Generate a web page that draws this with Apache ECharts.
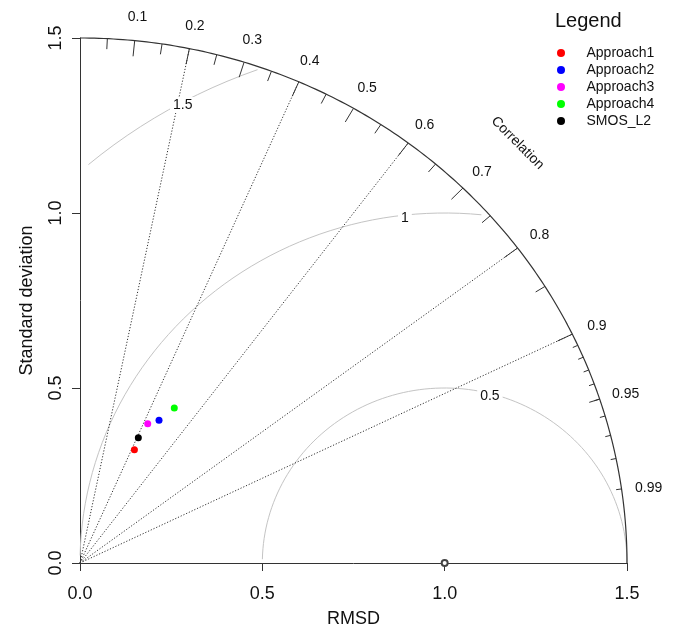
<!DOCTYPE html>
<html>
<head>
<meta charset="utf-8">
<title>Taylor diagram</title>
<script src="https://cdn.jsdelivr.net/npm/echarts@6/dist/echarts.min.js"></script>
<style>
  html, body { margin: 0; padding: 0; background: #fff; }
  #chart { width: 676px; height: 627px; }
</style>
</head>
<body>
<div id="chart"></div>
<script>
// Model statistics: standard deviation and correlation with the reference
const models = ['Approach1', 'Approach2', 'Approach3', 'Approach4', 'SMOS_L2'];
const stdDev = [0.356, 0.462, 0.439, 0.513, 0.392];
const correlation = [0.419, 0.469, 0.423, 0.504, 0.408];
const modelColors = ['#ff0000', '#0000ff', '#ff00ff', '#00ff00', '#000000'];

// Reference and diagram extent
const refSd = 1.0;
const maxSd = 1.5;
const axisTicks = [0, 0.5, 1.0, 1.5];

// Correlation arc: labelled ticks, gridlines and graduations
const corrLabels = [0.1, 0.2, 0.3, 0.4, 0.5, 0.6, 0.7, 0.8, 0.9, 0.95, 0.99];
const corrLines = [0.2, 0.4, 0.6, 0.8, 0.9];
const bigTicks = [0.1, 0.2, 0.3, 0.4, 0.5, 0.6, 0.7, 0.8, 0.9];
const medTicks = [0.05, 0.15, 0.25, 0.35, 0.45, 0.55, 0.65, 0.75, 0.85, 0.95];
const smallTicks = [0.91, 0.92, 0.93, 0.94, 0.95, 0.96, 0.97, 0.98, 0.99];

// Centred RMS difference contours
const rmsdLevels = [0.5, 1, 1.5];

const FONT = 'Liberation Sans, Arial, sans-serif';
const INK = '#111';

// polar (sd, r) -> cartesian (x, y)
const toXY = (sd, r) => [sd * r, sd * Math.sqrt(1 - r * r)];

// outer quarter arc
const outerArc = [];
for (let d = 0; d <= 90; d += 0.5) {
  const t = d * Math.PI / 180;
  outerArc.push([maxSd * Math.cos(t), maxSd * Math.sin(t)]);
}

function tickSegments(list, frac) {
  return list.map(r => ({ coords: [toXY(maxSd, r), toXY(maxSd * frac, r)] }));
}

// RMSD contours, sampled every 0.03 rad and clipped to the diagram
const angleSteps = [];
for (let k = 0; k < 105; k++) angleSteps.push(k * 0.03);
const labelIdx = [44, 56, 69];

const rmsdSeries = [];
const rmsdLabelData = [];
rmsdLevels.forEach((g, gi) => {
  const xs = angleSteps.map(t => Math.cos(t) * g + refSd);
  const ys = angleSteps.map(t => Math.sin(t) * g);
  let end = xs.findIndex(x => x < 0);
  end = end === -1 ? xs.length - 1 : end - 1;
  let start = 0;
  xs.forEach((x, i) => { if (x * x + ys[i] * ys[i] > maxSd * maxSd + 1e-9) start = i + 1; });
  const pts = [];
  for (let i = start; i <= end; i++) pts.push([xs[i], ys[i]]);
  rmsdSeries.push({
    type: 'line', name: 'rmsd' + g, data: pts, showSymbol: false, symbol: 'none',
    lineStyle: { color: '#c4c4c4', width: 1 }, silent: true, z: 2, clip: false
  });
  const li = labelIdx[gi];
  rmsdLabelData.push({ value: [xs[li], ys[li]], text: String(g) });
});

const series = [];

// outer arc
series.push({
  type: 'line', data: outerArc, showSymbol: false, symbol: 'none', silent: true, clip: false,
  lineStyle: { color: '#333', width: 1.2 }, z: 5
});

// correlation gridlines (dotted)
series.push({
  type: 'lines', coordinateSystem: 'cartesian2d', silent: true, z: 3,
  lineStyle: { color: '#333', width: 1, type: [1.2, 1.8], opacity: 1 },
  data: corrLines.map(r => ({ coords: [[0, 0], toXY(maxSd, r)] }))
});

// graduations on the arc
[[bigTicks, 0.97], [medTicks, 0.98], [smallTicks, 0.99]].forEach(([list, frac]) => {
  series.push({
    type: 'lines', coordinateSystem: 'cartesian2d', silent: true, z: 5,
    lineStyle: { color: '#333', width: 1, opacity: 1 },
    data: tickSegments(list, frac)
  });
});

rmsdSeries.forEach(s => series.push(s));

const textPoint = { color: 'transparent', opacity: 1 };

// RMSD labels on white boxes
series.push({
  type: 'scatter', silent: true, symbolSize: 1, itemStyle: textPoint, z: 6, clip: false,
  data: rmsdLabelData,
  label: {
    show: true, position: 'inside', offset: [0, 3], formatter: p => p.data.text,
    fontFamily: FONT, fontSize: 14, color: INK, backgroundColor: '#fff', padding: [1, 3]
  }
});

// correlation labels outside the arc
series.push({
  type: 'scatter', silent: true, symbolSize: 1, itemStyle: textPoint, z: 6, clip: false,
  data: corrLabels.map(r => ({ value: toXY(maxSd * 1.05, r), text: String(r) })),
  label: {
    show: true, position: 'inside', offset: [0, 3], formatter: p => p.data.text,
    fontFamily: FONT, fontSize: 14, color: INK
  }
});

// "Correlation" caption along the arc
series.push({
  type: 'scatter', silent: true, symbolSize: 1, itemStyle: textPoint, z: 6, clip: false,
  data: [{ value: [maxSd * 0.8, maxSd * 0.8], text: 'Correlation' }],
  label: {
    show: true, position: 'inside', formatter: p => p.data.text, rotate: -45,
    fontFamily: FONT, fontSize: 14, color: INK
  }
});

// reference point on the x axis
series.push({
  type: 'scatter', silent: true, symbol: 'emptyCircle', symbolSize: 6, z: 7, clip: false,
  itemStyle: { color: '#444', borderColor: '#444', borderWidth: 1, opacity: 1 },
  data: [[refSd, 0]]
});

// model points
models.forEach((m, i) => {
  series.push({
    type: 'scatter', name: m, symbol: 'circle', symbolSize: 7, z: 8,
    itemStyle: { color: modelColors[i], opacity: 1 },
    data: [toXY(stdDev[i], correlation[i])]
  });
});

const chart = echarts.init(document.getElementById('chart'), null, { renderer: 'canvas' });
chart.setOption({
  animation: false,
  backgroundColor: '#fff',
  title: {
    text: 'Legend', left: 555, top: 11, padding: 0,
    textStyle: { fontFamily: FONT, fontSize: 20, fontWeight: 'normal', color: INK }
  },
  legend: {
    orient: 'vertical', left: 557, top: 46, padding: 0, itemGap: 3,
    itemWidth: 41, itemHeight: 8, icon: 'circle', selectedMode: false,
    data: models,
    textStyle: { fontFamily: FONT, fontSize: 14, color: INK }
  },
  grid: { left: 80, right: 49, top: 38, bottom: 64, containLabel: false, outerBoundsMode: 'none' },
  xAxis: {
    type: 'value', min: 0, max: maxSd, interval: 0.5,
    name: 'RMSD', nameLocation: 'middle', nameGap: 47,
    nameTextStyle: { fontFamily: FONT, fontSize: 18, color: INK },
    axisLine: { show: true, onZero: false, lineStyle: { color: '#333', width: 1 } },
    axisTick: { show: true, length: 8, lineStyle: { color: '#333' } },
    axisLabel: {
      margin: 22, fontFamily: FONT, fontSize: 18, color: INK,
      formatter: v => axisTicks.includes(v) ? v.toFixed(1) : ''
    },
    splitLine: { show: false }
  },
  yAxis: {
    type: 'value', min: 0, max: maxSd, interval: 0.5,
    name: 'Standard deviation', nameLocation: 'middle', nameGap: 44,
    nameTextStyle: { fontFamily: FONT, fontSize: 18, color: INK },
    axisLine: { show: true, onZero: false, lineStyle: { color: '#333', width: 1 } },
    axisTick: { show: true, length: 8, lineStyle: { color: '#333' } },
    axisLabel: {
      margin: 15, rotate: 90, fontFamily: FONT, fontSize: 18, color: INK,
      formatter: v => axisTicks.includes(v) ? v.toFixed(1) : ''
    },
    splitLine: { show: false }
  },
  series: series
});
</script>
</body>
</html>
